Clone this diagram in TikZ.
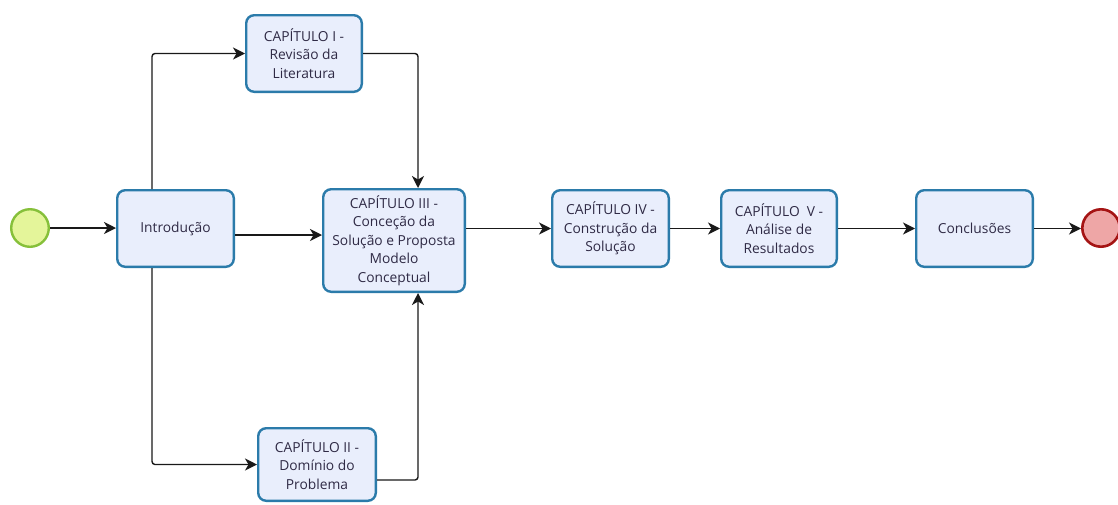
\documentclass[tikz,border=0pt]{standalone}
\usepackage{fontspec}
\setmainfont{Open Sans}
\usetikzlibrary{arrows.meta,calc}
\definecolor{boxfill}{HTML}{E9EEFC}
\definecolor{boxline}{HTML}{2B7BAA}
\definecolor{txt}{HTML}{2F2A45}
\definecolor{startfill}{HTML}{E4F59A}
\definecolor{startline}{HTML}{86C03A}
\definecolor{endfill}{HTML}{EEA6A6}
\definecolor{endline}{HTML}{A51414}
\tikzset{
  task/.style={draw=boxline, fill=boxfill, line width=2.4pt, rounded corners=8pt,
    align=center, text=txt, inner sep=2pt,
    font=\fontsize{13.8}{18.6}\selectfont},
  startev/.style={circle, draw=startline, fill=startfill, line width=2.4pt, minimum size=37.6pt, inner sep=0pt},
  endev/.style={circle, draw=endline, fill=endfill, line width=2.6pt, minimum size=37.4pt, inner sep=0pt},
  flow/.style={draw=black!90, line width=1.4pt, rounded corners=3pt,
    -{Stealth[length=12pt,width=12pt,inset=3.5pt]}}
}
\begin{document}
\begin{tikzpicture}[x=1pt,y=-1pt]
\useasboundingbox (0,0) rectangle (1118,504);
% events
\node[startev] (start) at (30,228) {};
\node[endev] (stop) at (1101,228) {};
% tasks
\node[task, minimum width=116.6pt, minimum height=76.6pt] (intro) at (175.5,228.5) {Introdução};
\node[task, minimum width=115.6pt, minimum height=76.6pt] (c1) at (304,53.5) {CAPÍTULO I -\\Revisão da\\Literatura};
\node[task, minimum width=141.6pt, minimum height=102.6pt] (c3) at (394,240.5) {CAPÍTULO III -\\Conceção da\\Solução e Proposta\\Modelo\\Conceptual};
\node[task, minimum width=117.6pt, minimum height=72.6pt] (c2) at (317,464.5) {CAPÍTULO II -\\Domínio do\\Problema};
\node[task, minimum width=116.6pt, minimum height=76.6pt] (c4) at (610.5,228.5) {CAPÍTULO IV -\\Construção da\\Solução};
\node[task, minimum width=115.6pt, minimum height=76.6pt] (c5) at (779,228.5) {CAPÍTULO \ V -\\Análise de\\Resultados};
\node[task, minimum width=116.6pt, minimum height=76.6pt] (concl) at (974.5,228.5) {Conclusões};
% anchor points of the branching flows
\coordinate (iup) at ([xshift=-23.5pt]intro.north);
\coordinate (idown) at ([xshift=-23.5pt]intro.south);
\coordinate (iright) at ([yshift=-6.5pt]intro.east);
\coordinate (c3top) at ([xshift=24pt]c3.north);
\coordinate (c3bot) at ([xshift=24pt]c3.south);
\coordinate (c2out) at ([yshift=-15.5pt]c2.east);
% flows
\draw[flow] (start) -- (intro.west |- start);
\draw[flow] (iup) |- (c1.west);
\draw[flow] (c1.east) -| (c3top);
\draw[flow] (idown) |- (c2.west);
\draw[flow] (c2out) -| (c3bot);
\draw[flow] (iright) -- (iright -| c3.west);
\draw[flow] (c3.east |- c4.west) -- (c4.west);
\draw[flow] (c4.east) -- (c5.west);
\draw[flow] (c5.east) -- (concl.west);
\draw[flow] (concl.east) -- (concl.east -| stop.west);
\end{tikzpicture}
\end{document}
